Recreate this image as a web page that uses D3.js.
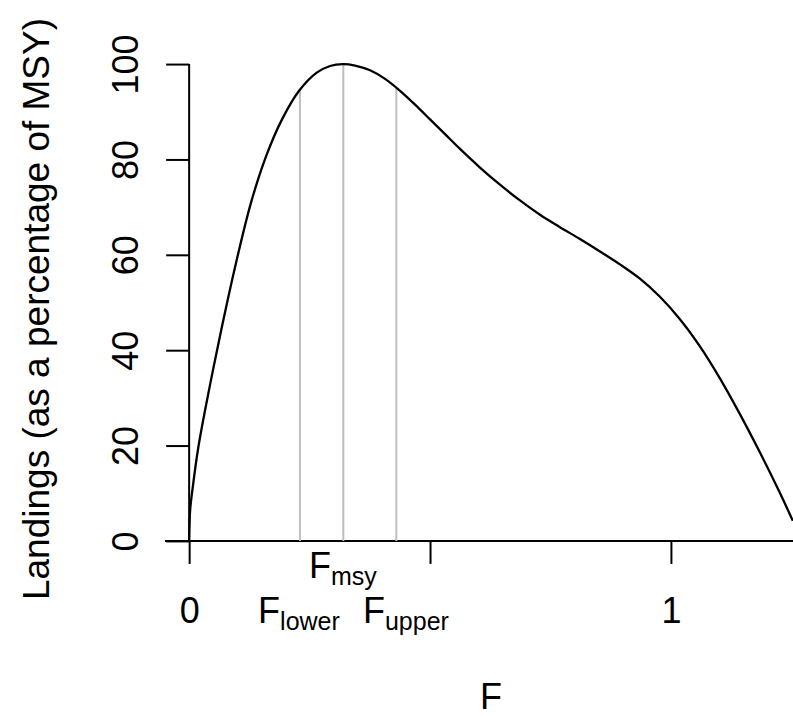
<!DOCTYPE html>
<html>
<head>
<meta charset="utf-8">
<script src="https://cdn.jsdelivr.net/npm/d3@7"></script>
<style>
  html, body { margin: 0; padding: 0; background: #fff; }
  svg { display: block; font-family: "Liberation Sans", Arial, sans-serif; }
</style>
</head>
<body>
<svg id="chart" width="793" height="717"></svg>
<script>
// ---- data ----
const F = [0, 0.0021, 0.0068, 0.0193, 0.0425, 0.0678, 0.0975, 0.1286, 0.1598, 0.1923,
  0.2282, 0.2649, 0.2925, 0.3189, 0.3444, 0.3755, 0.4066, 0.4378, 0.4689, 0.5000,
  0.5311, 0.5622, 0.6037, 0.6452, 0.6867, 0.7282, 0.7697, 0.8112, 0.8527, 0.8942,
  0.9357, 0.9772, 1.0187, 1.0602, 1.1017, 1.1432, 1.1846, 1.2261, 1.2531];
const landings = [0, 6.5, 10.7, 19.8, 32.3, 44.8, 58.4, 71.0, 80.7, 88.3,
  94.4, 98.2, 99.6, 100, 99.7, 98.7, 96.9, 94.4, 91.5, 88.4,
  85.3, 82.2, 78.3, 74.7, 71.4, 68.4, 65.8, 63.3, 60.7, 58.0,
  55.0, 51.2, 46.5, 40.8, 34.1, 26.6, 18.6, 10.1, 4.2];

const refNames = ["lower", "msy", "upper"];
const refF = [0.230, 0.320, 0.430];          // grey reference lines
const refTop = [94.5, 100, 95.0];            // where each line meets the curve
const refLabelF = [0.228, 0.319, 0.450];     // label centres on the F axis
const refLabelRow = [2, 1, 2];               // 1 = upper row, 2 = lower row

const xTicks = [0, 0.5, 1];
const xTickLabels = ["0", "", "1"];
const yTicks = [0, 20, 40, 60, 80, 100];
const yTickLabels = ["0", "20", "40", "60", "80", "100"];
const xTitle = "F";
const yTitle = "Landings (as a percentage of MSY)";

// ---- layout ----
const W = 793, H = 717;
const plot = { left: 165, right: 817, top: 45, bottom: 560 };
const fs = 36, subFs = 25;

const xMax = d3.max(F);
const xPad = 0.04 * xMax, yPad = 0.04 * 100;
const x = d3.scaleLinear().domain([0 - xPad, xMax + xPad]).range([plot.left, plot.right]);
const y = d3.scaleLinear().domain([0 - yPad, 100 + yPad]).range([plot.bottom, plot.top]);

const svg = d3.select("#chart");
svg.append("rect").attr("width", W).attr("height", H).attr("fill", "#fff");

// horizontal line at zero across the plot region
svg.append("line")
  .attr("x1", x.range()[0]).attr("x2", x.range()[1])
  .attr("y1", y(0)).attr("y2", y(0))
  .attr("stroke", "#000").attr("stroke-width", 2);

// grey reference lines
svg.append("g").selectAll("line")
  .data(refF.map((f, i) => ({ f, top: refTop[i] })))
  .join("line")
  .attr("x1", d => x(d.f)).attr("x2", d => x(d.f))
  .attr("y1", y(0)).attr("y2", d => y(d.top))
  .attr("stroke", "#bebebe").attr("stroke-width", 2);

// curve
const pts = F.map((f, i) => [f, landings[i]]);
svg.append("path")
  .datum(pts)
  .attr("fill", "none")
  .attr("stroke", "#000")
  .attr("stroke-width", 2.3)
  .attr("stroke-linejoin", "round")
  .attr("d", d3.line().x(d => x(d[0])).y(d => y(d[1])).curve(d3.curveCatmullRom.alpha(0.5)));

// y axis
const yAxis = svg.append("g")
  .attr("transform", `translate(${x(0)},0)`)
  .call(d3.axisLeft(y).tickValues(yTicks).tickSize(23).tickSizeOuter(0)
    .tickFormat((d, i) => yTickLabels[i]));
yAxis.select(".domain").attr("stroke-width", 2)
  .attr("d", `M0,${y(0)}V${y(100)}`);
yAxis.selectAll(".tick line").attr("stroke-width", 2);
yAxis.selectAll(".tick text")
  .attr("font-size", fs).attr("font-family", "Liberation Sans, Arial, sans-serif")
  .attr("fill", "#000")
  .attr("transform", "rotate(-90)")
  .attr("text-anchor", "middle")
  .attr("x", 0).attr("y", -51).attr("dy", 0);

// x axis
const xAxis = svg.append("g")
  .attr("transform", `translate(0,${y(0)})`)
  .call(d3.axisBottom(x).tickValues(xTicks).tickSize(23).tickSizeOuter(0)
    .tickFormat((d, i) => xTickLabels[i]));
xAxis.select(".domain").remove();
xAxis.selectAll(".tick line").attr("stroke-width", 2);
xAxis.selectAll(".tick text")
  .attr("font-size", fs).attr("font-family", "Liberation Sans, Arial, sans-serif")
  .attr("fill", "#000")
  .attr("y", 82).attr("dy", 0);

// reference labels F_sub
const rowBase = { 1: y(0) + 37, 2: y(0) + 82 };
refNames.forEach((nm, i) => {
  const t = svg.append("text")
    .attr("x", x(refLabelF[i]))
    .attr("y", rowBase[refLabelRow[i]])
    .attr("text-anchor", "middle")
    .attr("font-size", fs)
    .attr("fill", "#000");
  t.append("tspan").text("F");
  t.append("tspan").attr("font-size", subFs).attr("dy", 7).text(nm);
});

// axis titles
svg.append("text")
  .attr("x", (plot.left + plot.right) / 2)
  .attr("y", 709)
  .attr("text-anchor", "middle")
  .attr("font-size", fs)
  .attr("fill", "#000")
  .text(xTitle);

svg.append("text")
  .attr("transform", `translate(49,309) rotate(-90)`)
  .attr("text-anchor", "middle")
  .attr("font-size", 37)
  .attr("fill", "#000")
  .text(yTitle);
</script>
</body>
</html>
